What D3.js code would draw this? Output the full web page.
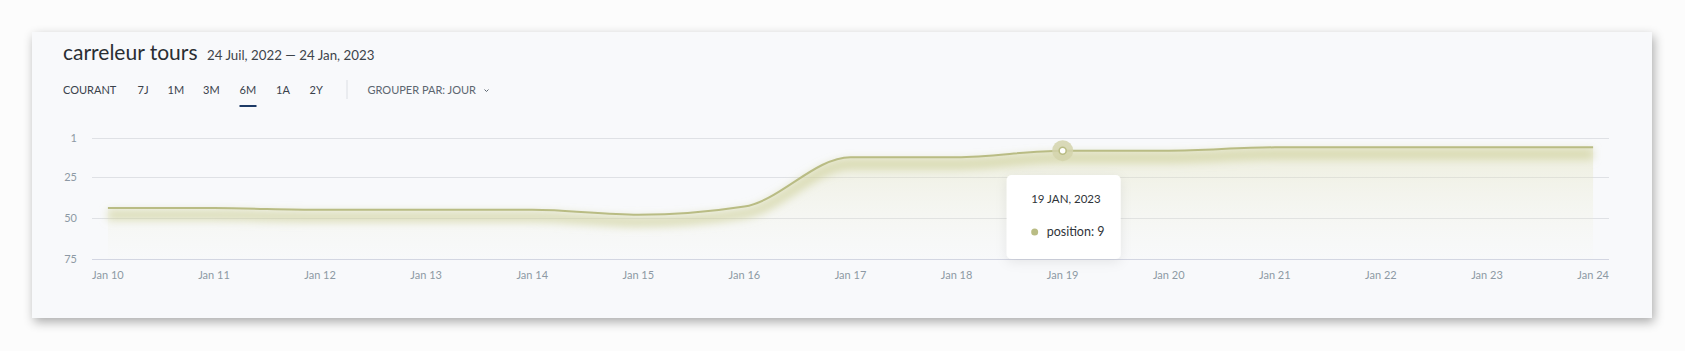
<!DOCTYPE html>
<html>
<head>
<meta charset="utf-8">
<script src="https://cdn.jsdelivr.net/npm/d3@7"></script>
<style>
  html, body { margin: 0; padding: 0; background: #fcfcfc; }
  body { width: 1685px; height: 351px; position: relative; overflow: hidden; font-family: Lato, "Open Sans", sans-serif; }
  .card {
    position: absolute; left: 32px; top: 32px; width: 1620px; height: 286px;
    background: #f8f9fb;
    box-shadow: 2px 4px 10px rgba(0,0,0,0.32);
  }
  svg { position: absolute; left: 0; top: 0; }
</style>
</head>
<body>
<div class="card"></div>
<div id="chart"></div>
<script>
const days = ["Jan 10", "Jan 11", "Jan 12", "Jan 13", "Jan 14", "Jan 15", "Jan 16", "Jan 17",
  "Jan 18", "Jan 19", "Jan 20", "Jan 21", "Jan 22", "Jan 23", "Jan 24"]
const positions = [44, 44, 45, 45, 45, 48, 43, 13, 13, 9, 9, 7, 7, 7, 7]
const yTicks = [1, 25, 50, 75]
const ranges = ["COURANT", "7J", "1M", "3M", "6M", "1A", "2Y"]
const activeRange = "6M"
const hoverDay = "Jan 19"
const hoverLabel = "19 JAN, 2023"

const lineColor = "#b9bc84"

const svg = d3.select("#chart")
  .append("svg")
  .attr("width", 1685)
  .attr("height", 351)

const defs = svg.append("defs")

const grad = defs.append("linearGradient")
  .attr("id", "fade")
  .attr("x1", 0).attr("y1", 0).attr("x2", 0).attr("y2", 1)
grad.append("stop").attr("offset", "0%").attr("stop-color", "#dcdcb0").attr("stop-opacity", 0.4)
grad.append("stop").attr("offset", "55%").attr("stop-color", "#e8e9cc").attr("stop-opacity", 0.22)
grad.append("stop").attr("offset", "100%").attr("stop-color", "#f0f0de").attr("stop-opacity", 0.03)

const glow = defs.append("filter")
  .attr("id", "glow")
  .attr("x", "-5%").attr("y", "-50%").attr("width", "110%").attr("height", "300%")
glow.append("feGaussianBlur").attr("stdDeviation", 4)

const tipShadow = defs.append("filter")
  .attr("id", "tipShadow")
  .attr("x", "-30%").attr("y", "-30%").attr("width", "160%").attr("height", "160%")
tipShadow.append("feDropShadow")
  .attr("dx", 0).attr("dy", 3).attr("stdDeviation", 6)
  .attr("flood-color", "#000").attr("flood-opacity", 0.08)

// header
svg.append("text")
  .attr("x", 63).attr("y", 60)
  .style("font-size", "21px")
  .style("fill", "#2a2e33")
  .text("carreleur tours")

svg.append("text")
  .attr("x", 207).attr("y", 60)
  .style("font-size", "13.3px")
  .style("fill", "#3d434a")
  .text("24 Juil, 2022 \u2014 24 Jan, 2023")

const navX = [63, 137.5, 167.5, 203, 239.5, 276, 309.5]
const nav = svg.append("g").attr("class", "nav")
nav.selectAll("text")
  .data(ranges)
  .enter().append("text")
  .attr("x", (d, i) => navX[i])
  .attr("y", 93.5)
  .style("font-size", "11px")
  .style("fill", "#3a424b")
  .text(d => d)

const activeIdx = ranges.indexOf(activeRange)
nav.append("rect")
  .attr("x", navX[activeIdx]).attr("y", 105)
  .attr("width", 17).attr("height", 2)
  .style("fill", "#1d3a66")

svg.append("line")
  .attr("x1", 347).attr("x2", 347)
  .attr("y1", 80).attr("y2", 99)
  .style("stroke", "#dcdfe4")

svg.append("text")
  .attr("x", 367.5).attr("y", 93.5)
  .style("font-size", "11px")
  .style("fill", "#5c6670")
  .text("GROUPER PAR:  JOUR")

svg.append("path")
  .attr("d", "M484.5,89.5 L486.5,91.5 L488.5,89.5")
  .style("fill", "none")
  .style("stroke", "#5c6670")
  .style("stroke-width", 1)

// scales
const x = d3.scalePoint()
  .domain(days)
  .range([92, 1609])
  .padding(0.15)

const y = d3.scaleLinear()
  .domain([1, 75])
  .range([137.5, 259])

// grid + y labels
const grid = svg.append("g")
grid.selectAll("line")
  .data(yTicks)
  .enter().append("line")
  .attr("x1", 92).attr("x2", 1609)
  .attr("y1", d => Math.round(y(d)) + 0.5)
  .attr("y2", d => Math.round(y(d)) + 0.5)
  .style("stroke", d => d === 75 ? "#d3d6e2" : "#dfe1e5")

grid.selectAll("text")
  .data(yTicks)
  .enter().append("text")
  .attr("x", 77)
  .attr("y", d => y(d) + 4)
  .attr("text-anchor", "end")
  .style("font-size", "11px")
  .style("fill", "#8d99a4")
  .text(d => d)

// x labels
svg.append("g")
  .selectAll("text")
  .data(days)
  .enter().append("text")
  .attr("x", d => x(d))
  .attr("y", 279)
  .attr("text-anchor", "middle")
  .style("font-size", "11px")
  .style("fill", "#8d99a4")
  .text(d => d)

const series = days.map((d, i) => ({ day: d, value: positions[i] }))

const area = d3.area()
  .x(d => x(d.day))
  .y0(y(75))
  .y1(d => y(d.value))
  .curve(d3.curveMonotoneX)

const line = d3.line()
  .x(d => x(d.day))
  .y(d => y(d.value))
  .curve(d3.curveMonotoneX)

svg.append("path")
  .datum(series)
  .attr("d", area)
  .style("fill", "url(#fade)")

// soft shadow under the line
svg.append("path")
  .datum(series)
  .attr("d", line)
  .attr("transform", "translate(0,7)")
  .attr("filter", "url(#glow)")
  .style("fill", "none")
  .style("stroke", "#cacb90")
  .style("stroke-width", 10)
  .style("stroke-opacity", 0.6)

svg.append("path")
  .datum(series)
  .attr("d", line)
  .style("fill", "none")
  .style("stroke", lineColor)
  .style("stroke-width", 2)

// hovered point
const hv = series.find(d => d.day === hoverDay)
svg.append("circle")
  .attr("cx", x(hv.day)).attr("cy", y(hv.value))
  .attr("r", 10.5)
  .style("fill", "#d3d4ab")
  .style("fill-opacity", 0.85)
svg.append("circle")
  .attr("cx", x(hv.day)).attr("cy", y(hv.value))
  .attr("r", 3.5)
  .style("fill", "#ffffff")
  .style("stroke", lineColor)
  .style("stroke-width", 1.5)

// tooltip
const tip = svg.append("g")
  .attr("transform", `translate(${x(hv.day) - 56},175)`)
tip.append("rect")
  .attr("width", 114).attr("height", 84)
  .attr("rx", 5)
  .attr("filter", "url(#tipShadow)")
  .style("fill", "#ffffff")
tip.append("text")
  .attr("x", 24.5).attr("y", 28)
  .style("font-size", "11.5px")
  .style("fill", "#2f3439")
  .text(hoverLabel)
tip.append("circle")
  .attr("cx", 28).attr("cy", 57)
  .attr("r", 3.5)
  .style("fill", lineColor)
tip.append("text")
  .attr("x", 40).attr("y", 61)
  .style("font-size", "12.5px")
  .style("fill", "#2f3439")
  .text("position:  " + hv.value)
</script>
</body>
</html>
